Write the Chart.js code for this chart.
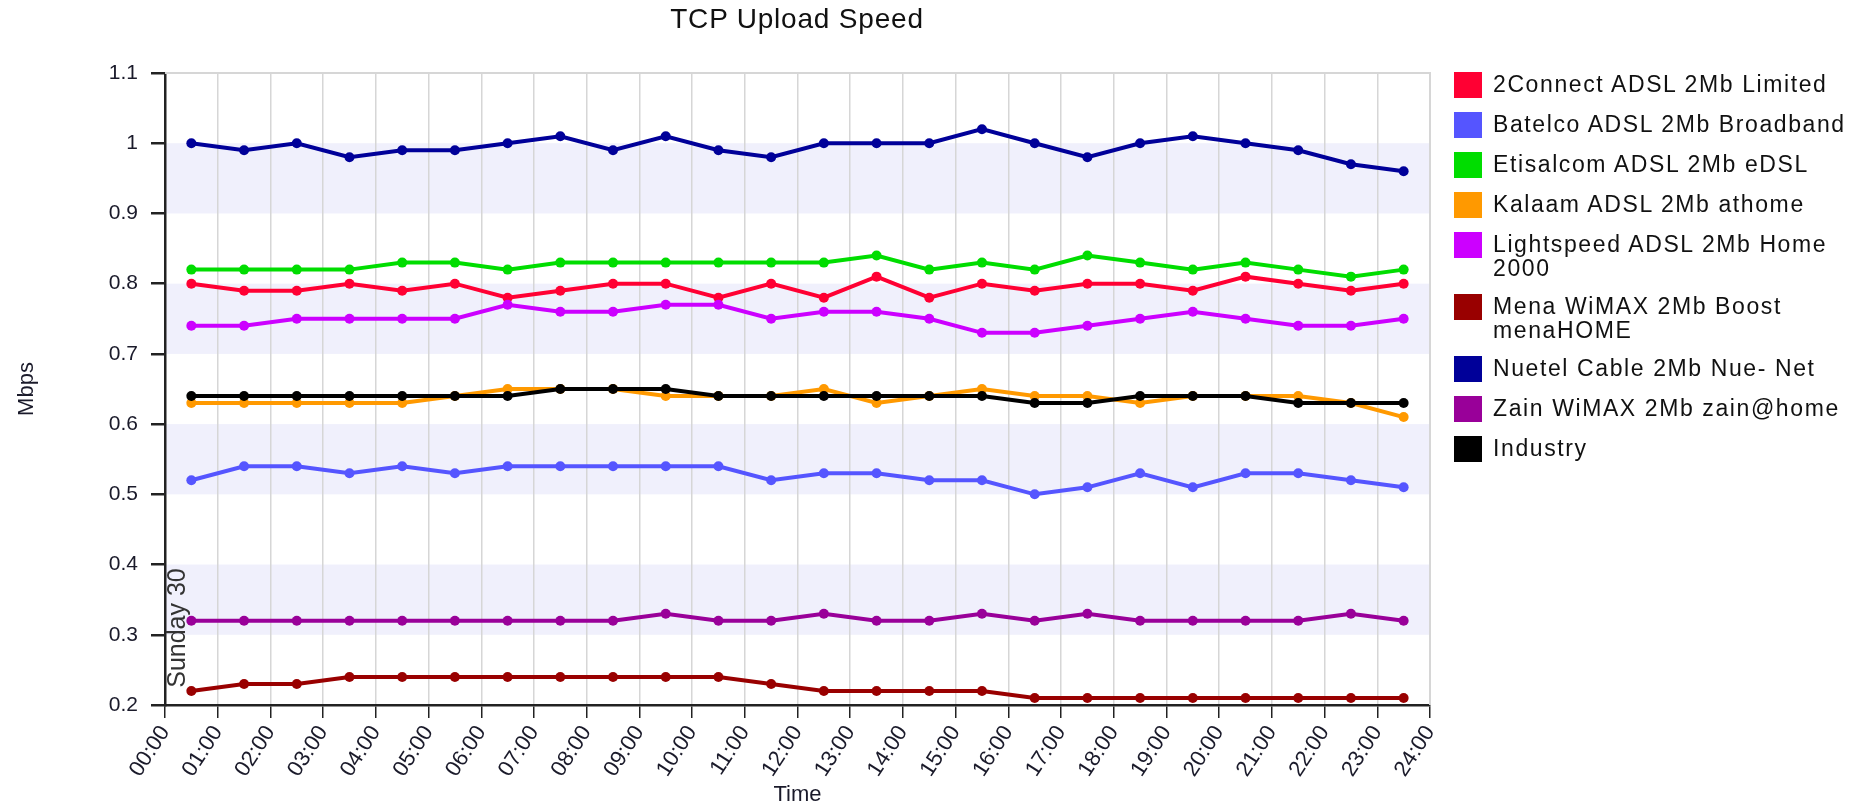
<!DOCTYPE html>
<html>
<head>
<meta charset="utf-8">
<title>TCP Upload Speed</title>
<script src="https://cdn.jsdelivr.net/npm/chart.js@4.4.1/dist/chart.umd.min.js"></script>
<style>
  html, body { margin: 0; padding: 0; background: #fff; }
  #wrap { position: relative; width: 1869px; height: 806px; font-family: "Liberation Sans", Arial, sans-serif; color: #111; }
  #title { position: absolute; left: 797px; top: 3px; transform: translateX(-50%); font-size: 28px; letter-spacing: 0.8px; white-space: nowrap; }
  #legend { position: absolute; left: 1454px; top: 72px; width: 412px; }
  .item { display: flex; align-items: flex-start; margin-bottom: 14px; }
  .box { width: 28px; height: 26px; flex: none; }
  .txt { margin-left: 11px; width: 372px; font-size: 23px; line-height: 24px; letter-spacing: 1.6px; }
</style>
</head>
<body>
<div id="wrap">
  <canvas id="myChart" width="1869" height="806"></canvas>
  <div id="title">TCP Upload Speed</div>
  <div id="legend"></div>
</div>
<script>
// half-hour sample positions (hours) and hour tick labels
const slots = [0.5, 1.5, 2.5, 3.5, 4.5, 5.5, 6.5, 7.5, 8.5, 9.5, 10.5, 11.5,
               12.5, 13.5, 14.5, 15.5, 16.5, 17.5, 18.5, 19.5, 20.5, 21.5, 22.5, 23.5];
const hourLabels = ['00:00', '01:00', '02:00', '03:00', '04:00', '05:00', '06:00', '07:00', '08:00',
                    '09:00', '10:00', '11:00', '12:00', '13:00', '14:00', '15:00', '16:00', '17:00',
                    '18:00', '19:00', '20:00', '21:00', '22:00', '23:00', '24:00'];

const names = ['2Connect ADSL 2Mb Limited', 'Batelco ADSL 2Mb Broadband', 'Etisalcom ADSL 2Mb eDSL',
               'Kalaam ADSL 2Mb athome', 'Lightspeed ADSL 2Mb Home 2000', 'Mena WiMAX 2Mb Boost menaHOME',
               'Nuetel Cable 2Mb Nue- Net', 'Zain WiMAX 2Mb zain@home', 'Industry'];
const colors = ['#ff0033', '#5555ff', '#00dd00', '#ff9900', '#cc00ff', '#990000', '#000099', '#990099', '#000000'];

// Mbps per half hour
const connect   = [0.80, 0.79, 0.79, 0.80, 0.79, 0.80, 0.78, 0.79, 0.80, 0.80, 0.78, 0.80, 0.78, 0.81, 0.78, 0.80, 0.79, 0.80, 0.80, 0.79, 0.81, 0.80, 0.79, 0.80];
const batelco   = [0.52, 0.54, 0.54, 0.53, 0.54, 0.53, 0.54, 0.54, 0.54, 0.54, 0.54, 0.52, 0.53, 0.53, 0.52, 0.52, 0.50, 0.51, 0.53, 0.51, 0.53, 0.53, 0.52, 0.51];
const etisalcom = [0.82, 0.82, 0.82, 0.82, 0.83, 0.83, 0.82, 0.83, 0.83, 0.83, 0.83, 0.83, 0.83, 0.84, 0.82, 0.83, 0.82, 0.84, 0.83, 0.82, 0.83, 0.82, 0.81, 0.82];
const kalaam    = [0.63, 0.63, 0.63, 0.63, 0.63, 0.64, 0.65, 0.65, 0.65, 0.64, 0.64, 0.64, 0.65, 0.63, 0.64, 0.65, 0.64, 0.64, 0.63, 0.64, 0.64, 0.64, 0.63, 0.61];
const lightspd  = [0.74, 0.74, 0.75, 0.75, 0.75, 0.75, 0.77, 0.76, 0.76, 0.77, 0.77, 0.75, 0.76, 0.76, 0.75, 0.73, 0.73, 0.74, 0.75, 0.76, 0.75, 0.74, 0.74, 0.75];
const mena      = [0.22, 0.23, 0.23, 0.24, 0.24, 0.24, 0.24, 0.24, 0.24, 0.24, 0.24, 0.23, 0.22, 0.22, 0.22, 0.22, 0.21, 0.21, 0.21, 0.21, 0.21, 0.21, 0.21, 0.21];
const nuetel    = [1.00, 0.99, 1.00, 0.98, 0.99, 0.99, 1.00, 1.01, 0.99, 1.01, 0.99, 0.98, 1.00, 1.00, 1.00, 1.02, 1.00, 0.98, 1.00, 1.01, 1.00, 0.99, 0.97, 0.96];
const zain      = [0.32, 0.32, 0.32, 0.32, 0.32, 0.32, 0.32, 0.32, 0.32, 0.33, 0.32, 0.32, 0.33, 0.32, 0.32, 0.33, 0.32, 0.33, 0.32, 0.32, 0.32, 0.32, 0.33, 0.32];
const industry  = [0.64, 0.64, 0.64, 0.64, 0.64, 0.64, 0.64, 0.65, 0.65, 0.65, 0.64, 0.64, 0.64, 0.64, 0.64, 0.64, 0.63, 0.63, 0.64, 0.64, 0.64, 0.63, 0.63, 0.63];

const series = [connect, batelco, etisalcom, kalaam, lightspd, mena, nuetel, zain, industry];
const dayNote = 'Sunday 30';

const FONT = '"Liberation Sans", Arial, sans-serif';
Chart.defaults.font.family = FONT;
Chart.defaults.color = '#1a1a2a';

// light bands, plot border and the day note
const backdrop = {
  id: 'backdrop',
  beforeDraw(chart) {
    const {ctx, chartArea: a, scales: {y}} = chart;
    ctx.save();
    ctx.fillStyle = '#f0f0fc';
    y.ticks.forEach(t => {
      const v = Math.round(t.value * 10);
      if (v % 2 === 1 && v < 11) {
        const top = y.getPixelForValue((v + 1) / 10);
        const bot = y.getPixelForValue(v / 10);
        ctx.fillRect(a.left, top, a.right - a.left, bot - top);
      }
    });
    ctx.restore();
  },
  beforeDatasetsDraw(chart) {
    const {ctx, chartArea: a} = chart;
    ctx.save();
    ctx.strokeStyle = '#d6d6d6';
    ctx.lineWidth = 2;
    ctx.beginPath();
    ctx.moveTo(a.left, a.top);
    ctx.lineTo(a.right, a.top);
    ctx.lineTo(a.right, a.bottom);
    ctx.stroke();
    // day note
    ctx.translate(a.left + 13, a.bottom - 77);
    ctx.rotate(-Math.PI / 2);
    ctx.font = '25px ' + FONT;
    ctx.fillStyle = '#333';
    ctx.textAlign = 'center';
    ctx.textBaseline = 'middle';
    ctx.fillText(dayNote, 0, 0);
    ctx.restore();
  }
};

const ctx = document.getElementById('myChart');

new Chart(ctx, {
  type: 'line',
  data: {
    datasets: names.map((name, i) => ({
      label: name,
      data: series[i].map((v, j) => ({x: slots[j], y: v})),
      borderColor: colors[i],
      backgroundColor: colors[i],
      borderWidth: 4,
      pointRadius: 5,
      pointBorderWidth: 0,
      tension: 0,
      order: names.length - i
    }))
  },
  options: {
    responsive: false,
    devicePixelRatio: 1,
    animation: false,
    layout: { padding: { top: 73, right: 439, left: 0, bottom: 0 } },
    plugins: {
      legend: { display: false },
      title: { display: false },
      tooltip: { enabled: false }
    },
    scales: {
      x: {
        type: 'linear',
        min: 0,
        max: 24,
        afterFit(scale) { scale.height = 101; },
        border: { display: true, color: '#222', width: 2.5 },
        grid: { color: '#d6d6d6', tickColor: '#222', tickLength: 13, lineWidth: 1.5 },
        ticks: {
          stepSize: 1,
          autoSkip: false,
          maxRotation: 57,
          minRotation: 57,
          padding: 3,
          font: { size: 22 },
          callback: v => hourLabels[v]
        },
        title: { display: true, text: 'Time', font: { size: 22, lineHeight: 1 }, padding: { top: 0, bottom: 0 } }
      },
      y: {
        min: 0.2,
        max: 1.1,
        afterFit(scale) { scale.width = 165; },
        border: { display: true, color: '#222', width: 2.5 },
        grid: { drawOnChartArea: false, tickColor: '#222', tickLength: 14, lineWidth: 2.5 },
        ticks: {
          stepSize: 0.1,
          padding: 13,
          font: { size: 21 },
          callback: v => String(Math.round(v * 10) / 10)
        },
        title: { display: true, text: 'Mbps', font: { size: 22, lineHeight: 1 }, padding: { top: 16, bottom: 0 } }
      }
    }
  },
  plugins: [backdrop]
});

// legend
const legend = document.getElementById('legend');
names.forEach((name, i) => {
  const item = document.createElement('div');
  item.className = 'item';
  const box = document.createElement('div');
  box.className = 'box';
  box.style.background = colors[i];
  const txt = document.createElement('div');
  txt.className = 'txt';
  txt.textContent = name;
  item.appendChild(box);
  item.appendChild(txt);
  legend.appendChild(item);
});
</script>
</body>
</html>
